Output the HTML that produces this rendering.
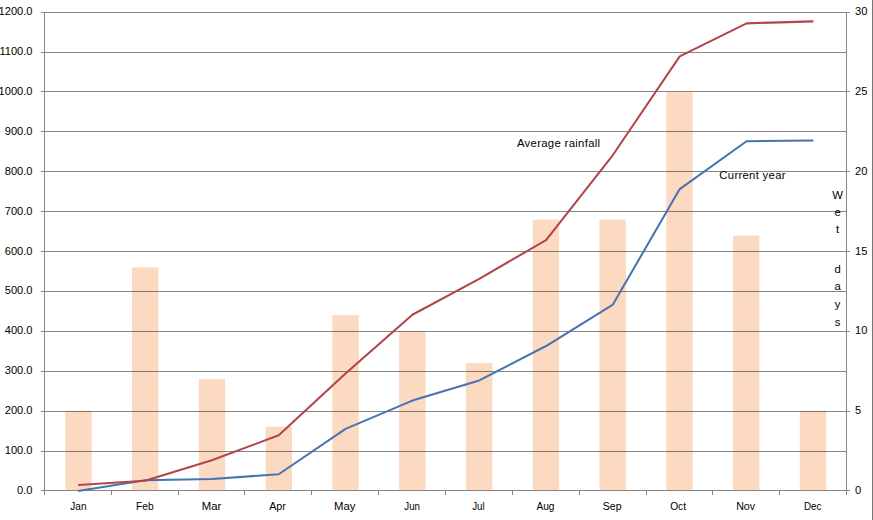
<!DOCTYPE html>
<html><head><meta charset="utf-8"><style>
html,body{margin:0;padding:0;background:#fff;}
body{width:873px;height:520px;overflow:hidden;}
svg{display:block;}
</style></head><body>
<svg width="873" height="520" viewBox="0 0 873 520">
<rect width="873" height="520" fill="#fff"/>
<rect x="65.25" y="410.83" width="26.4" height="79.17" fill="#FBDAC1"/>
<rect x="132.03" y="267.43" width="26.4" height="222.57" fill="#FBDAC1"/>
<rect x="198.81" y="378.97" width="26.4" height="111.03" fill="#FBDAC1"/>
<rect x="265.59" y="426.77" width="26.4" height="63.23" fill="#FBDAC1"/>
<rect x="332.37" y="315.23" width="26.4" height="174.77" fill="#FBDAC1"/>
<rect x="399.15" y="331.17" width="26.4" height="158.83" fill="#FBDAC1"/>
<rect x="465.93" y="363.03" width="26.4" height="126.97" fill="#FBDAC1"/>
<rect x="532.71" y="219.63" width="26.4" height="270.37" fill="#FBDAC1"/>
<rect x="599.49" y="219.63" width="26.4" height="270.37" fill="#FBDAC1"/>
<rect x="666.27" y="92.17" width="26.4" height="397.83" fill="#FBDAC1"/>
<rect x="733.05" y="235.57" width="26.4" height="254.43" fill="#FBDAC1"/>
<rect x="799.83" y="410.83" width="26.4" height="79.17" fill="#FBDAC1"/>
<path d="M41 12.5H846 M41 52.5H846 M41 91.5H846 M41 131.5H846 M41 171.5H846 M41 211.5H846 M41 251.5H846 M41 291.5H846 M41 331.5H846 M41 371.5H846 M41 411.5H846 M41 451.5H846 M41 490.5H850 M44.5 12V495 M846.5 12V495 M846 12.5H850 M846 91.5H850 M846 171.5H850 M846 251.5H850 M846 331.5H850 M846 411.5H850 M111.5 490V495 M178.5 490V495 M244.5 490V495 M311.5 490V495 M378.5 490V495 M445.5 490V495 M512.5 490V495 M579.5 490V495 M646.5 490V495 M712.5 490V495 M779.5 490V495" stroke="#000" stroke-opacity="0.475" stroke-width="1" fill="none" shape-rendering="crispEdges"/>
<path d="M872.5 0V520" stroke="#777" stroke-width="1" shape-rendering="crispEdges"/>
<polyline points="78.22,491.00 145.05,480.25 211.88,479.05 278.72,474.27 345.55,428.86 412.38,400.58 479.22,380.46 546.05,346.01 612.88,304.58 679.72,189.06 746.55,141.26 813.38,140.47" fill="none" stroke="#4774B0" stroke-width="2.05" stroke-linejoin="round"/>
<polyline points="78.22,484.91 145.05,480.80 211.88,460.33 278.72,435.23 345.55,373.49 412.38,314.74 479.22,278.89 546.05,240.05 612.88,155.01 679.72,56.42 746.55,23.36 813.38,21.37" fill="none" stroke="#B2454A" stroke-width="2.05" stroke-linejoin="round"/>
<g font-family="Liberation Sans, sans-serif" font-size="11.1" fill="#000" stroke="#000" stroke-width="0">
<text x="32.5" y="15.1" text-anchor="end">1200.0</text>
<text x="32.5" y="55.0" text-anchor="end">1100.0</text>
<text x="32.5" y="94.9" text-anchor="end">1000.0</text>
<text x="32.5" y="134.8" text-anchor="end">900.0</text>
<text x="32.5" y="174.7" text-anchor="end">800.0</text>
<text x="32.5" y="214.6" text-anchor="end">700.0</text>
<text x="32.5" y="254.5" text-anchor="end">600.0</text>
<text x="32.5" y="294.4" text-anchor="end">500.0</text>
<text x="32.5" y="334.3" text-anchor="end">400.0</text>
<text x="32.5" y="374.2" text-anchor="end">300.0</text>
<text x="32.5" y="414.1" text-anchor="end">200.0</text>
<text x="32.5" y="454.0" text-anchor="end">100.0</text>
<text x="32.5" y="493.9" text-anchor="end">0.0</text>
<text x="855" y="15.1">30</text>
<text x="855" y="94.9">25</text>
<text x="855" y="174.7">20</text>
<text x="855" y="254.5">15</text>
<text x="855" y="334.3">10</text>
<text x="855" y="414.1">5</text>
<text x="855" y="493.9">0</text>
</g>
<g font-family="Liberation Sans, sans-serif" font-size="11.3" fill="#000" stroke="#000" stroke-width="0">
<text x="70.31" y="510.4" textLength="16.18" lengthAdjust="spacingAndGlyphs">Jan</text>
<text x="136.04" y="510.4" textLength="17.64" lengthAdjust="spacingAndGlyphs">Feb</text>
<text x="201.84" y="510.4" textLength="19.50" lengthAdjust="spacingAndGlyphs">Mar</text>
<text x="269.22" y="510.4" textLength="16.62" lengthAdjust="spacingAndGlyphs">Apr</text>
<text x="334.01" y="510.4" textLength="21.44" lengthAdjust="spacingAndGlyphs">May</text>
<text x="404.31" y="510.4" textLength="15.67" lengthAdjust="spacingAndGlyphs">Jun</text>
<text x="472.15" y="510.4" textLength="12.53" lengthAdjust="spacingAndGlyphs">Jul</text>
<text x="536.40" y="510.4" textLength="18.07" lengthAdjust="spacingAndGlyphs">Aug</text>
<text x="602.85" y="510.4" textLength="18.70" lengthAdjust="spacingAndGlyphs">Sep</text>
<text x="670.18" y="510.4" textLength="15.80" lengthAdjust="spacingAndGlyphs">Oct</text>
<text x="736.15" y="510.4" textLength="18.95" lengthAdjust="spacingAndGlyphs">Nov</text>
<text x="804.04" y="510.4" textLength="17.38" lengthAdjust="spacingAndGlyphs">Dec</text>
<text x="516.93" y="146.8" textLength="83.17" lengthAdjust="spacing">Average rainfall</text>
<text x="719.31" y="179.2" textLength="66.23" lengthAdjust="spacing">Current year</text>
<text x="837.6" y="198.8" text-anchor="middle">W</text>
<text x="837.6" y="216.2" text-anchor="middle">e</text>
<text x="837.6" y="232.9" text-anchor="middle">t</text>
<text x="837.6" y="272.8" text-anchor="middle">d</text>
<text x="837.6" y="289.7" text-anchor="middle">a</text>
<text x="837.6" y="308" text-anchor="middle">y</text>
<text x="837.6" y="326.1" text-anchor="middle">s</text>
</g></svg>
</body></html>
